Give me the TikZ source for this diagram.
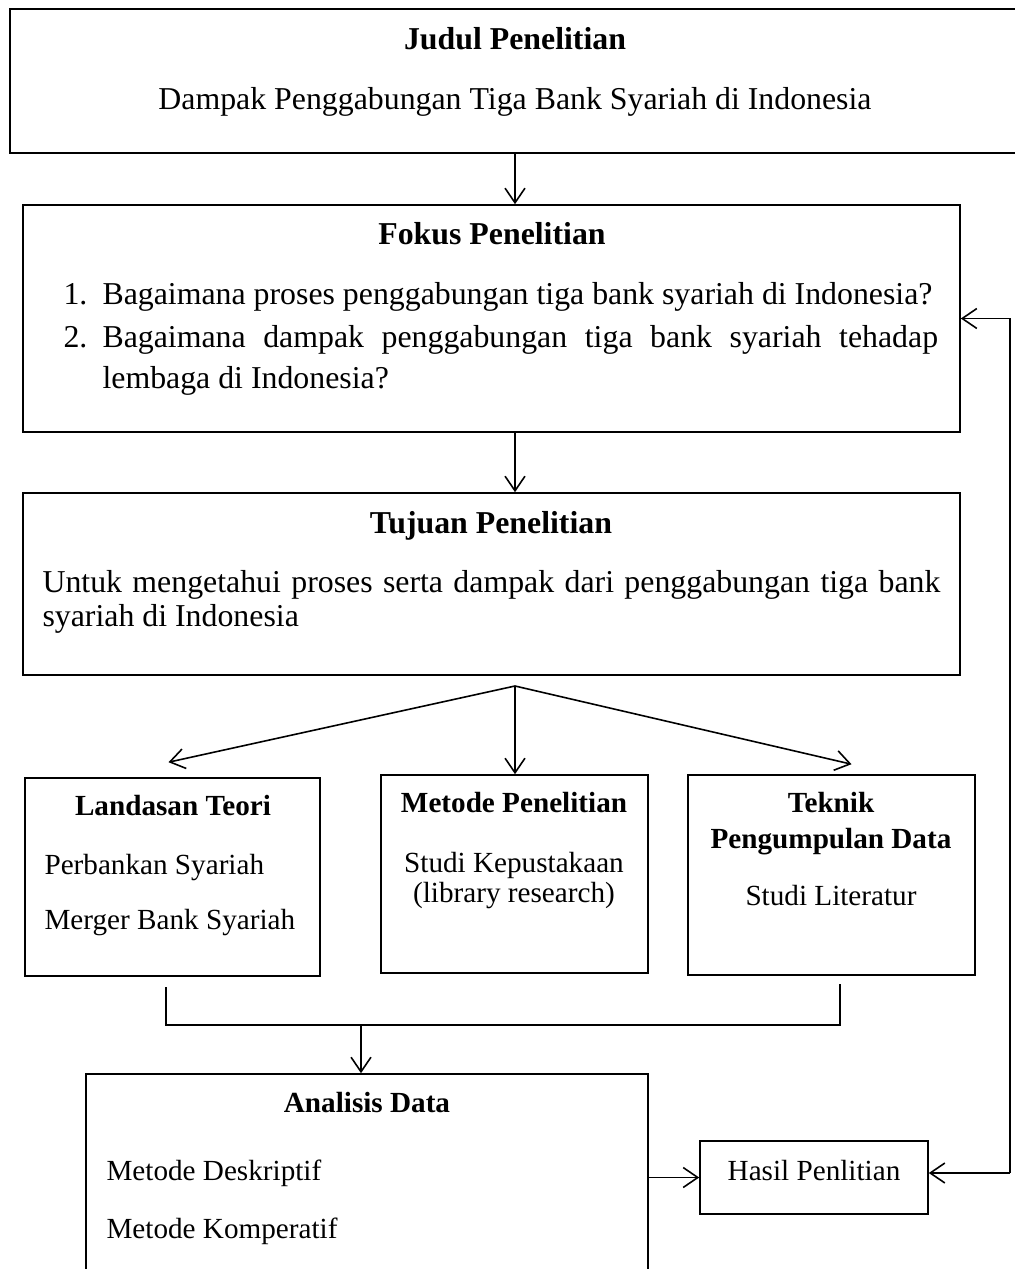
\documentclass[tikz,border=0pt]{standalone}
\usepackage{fontspec}
\setmainfont{Liberation Serif}
\usepackage{tikz}
\usetikzlibrary{arrows.meta,positioning,fit,calc}

\begin{document}
\begin{tikzpicture}[
    x=0.377pt, y=-0.377pt,
    box/.style={draw, line width=0.6pt, inner sep=0pt},
    head/.style={font=\fontsize{12}{14}\selectfont\bfseries, inner sep=0pt, anchor=base},
    ctxt/.style={font=\fontsize{12}{14}\selectfont, inner sep=0pt, anchor=base},
    txt/.style={font=\fontsize{12}{14}\selectfont, inner sep=0pt, anchor=base west},
    shead/.style={font=\fontsize{11}{13}\selectfont\bfseries, inner sep=0pt, anchor=base},
    sctxt/.style={font=\fontsize{11}{13}\selectfont, inner sep=0pt, anchor=base},
    stxt/.style={font=\fontsize{11}{13}\selectfont, inner sep=0pt, anchor=base west},
    line/.style={line width=0.6pt},
    arrow/.style={line width=0.6pt, ->, >={Straight Barb[length=5.5pt,width=7.5pt]}}
  ]
  \useasboundingbox (0,0) rectangle (1015,1269);

  % Judul
  \node[box, fit={(10,9)(1030,153)}] (judul) {};
  \node[head] (judulT) at (515,50) {Judul Penelitian};
  \node[ctxt] (judulS) at (515,110) {Dampak Penggabungan Tiga Bank Syariah di Indonesia};

  % Fokus
  \node[box, fit={(23,205)(960,432)}] (fokus) {};
  \node[head] (fokusT) at (492,245) {Fokus Penelitian};
  \node[txt] (n1) at (63,305) {1.};
  \node[txt] (q1) at (102,305) {Bagaimana proses penggabungan tiga bank syariah di Indonesia?};
  \node[txt] (n2) at (63,348) {2.};
  \node[txt] (q2) at (102,348) {\hbox to 315pt{Bagaimana dampak penggabungan tiga bank syariah tehadap}};
  \node[txt] (q2b) at (102,389) {lembaga di Indonesia?};

  % Tujuan
  \node[box, fit={(23,493)(960,675)}] (tujuan) {};
  \node[head] (tujuanT) at (491,533) {Tujuan Penelitian};
  \node[txt] (tj1) at (42,592) {\hbox to 338.5pt{Untuk mengetahui proses serta dampak dari penggabungan tiga bank}};
  \node[txt] (tj2) at (42,626) {syariah di Indonesia};

  % Landasan, Metode, Teknik
  \node[box, fit={(25,778)(320,976)}] (landasan) {};
  \node[shead] (landasanT) at (173,815) {Landasan Teori};
  \node[stxt] (teori1) at (44,874) {Perbankan Syariah};
  \node[stxt] (teori2) at (44,929) {Merger Bank Syariah};

  \node[box, fit={(381,775)(648,973)}] (metode) {};
  \node[shead] (metodeT) at (514,812) {Metode Penelitian};
  \node[sctxt] (metode1) at (514,872) {Studi Kepustakaan};
  \node[sctxt] (metode2) at (514,902) {(library research)};

  \node[box, fit={(688,775)(975,975)}] (teknik) {};
  \node[shead] (teknikT) at (831,812) {Teknik};
  \node[shead] (teknikT2) at (831,848) {Pengumpulan Data};
  \node[sctxt] (teknik1) at (831,905) {Studi Literatur};

  % Analisis dan Hasil
  \node[box, fit={(86,1074)(648,1290)}] (analisis) {};
  \node[shead] (analisisT) at (367,1112) {Analisis Data};
  \node[stxt] (analisis1) at (106,1180) {Metode Deskriptif};
  \node[stxt] (analisis2) at (106,1238) {Metode Komperatif};

  \node[box, fit={(700,1141)(928,1214)}] (hasil) {};
  \node[sctxt] (hasilT) at (814,1180) {Hasil Penlitian};

  % Panah
  \coordinate (split) at (515,686);
  \draw[arrow] (judul.south -| split) -- (fokus.north -| split);
  \draw[arrow] (fokus.south -| split) -- (tujuan.north -| split);
  \draw[arrow] (split) -- (metode.north -| split);
  \draw[arrow] (split) -- ($(landasan.north)+(-4,-15)$);
  \draw[arrow] (split) -- ($(teknik.north)+(20,-10)$);

  \coordinate (jl) at (166,987);
  \coordinate (jr) at (840,984);
  \coordinate (join) at (361,1025);
  \draw[line] (jl) |- (join) -| (jr);
  \draw[arrow] (join) -- (analisis.north -| join);

  \draw[arrow] (analisis.east |- hasil.west) -- (hasil.west);
  \coordinate (fb) at (1010,1173);
  \draw[arrow] (fb) -- (hasil.east |- fb);
  \draw[arrow] (fb) |- (fokus.east);
\end{tikzpicture}
\end{document}
